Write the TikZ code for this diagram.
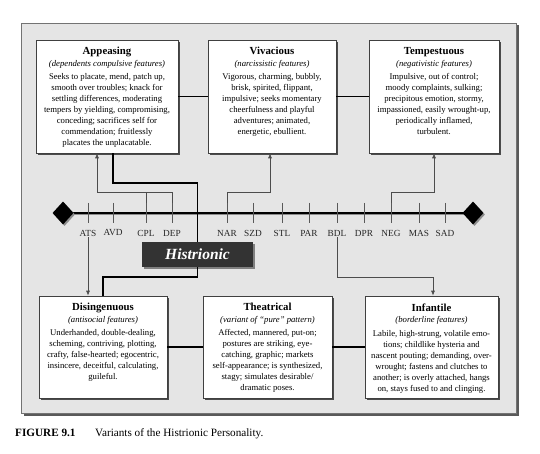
\documentclass[tikz,border=0pt]{standalone}
\usepackage{fontspec}
\setmainfont{Liberation Serif}
\usetikzlibrary{positioning,arrows.meta,shapes.geometric,shadows}

% title, subtitle and body of one variant box
\newcommand{\varianttext}[5]{%
  \parbox[c][#1][t]{#2}{\centering\vspace*{4.5pt}
    {\fontsize{10.8}{12}\selectfont\bfseries #3}\\[0.5pt]
    {\itshape #4}\\[2.5pt]
    #5}}

\begin{document}
\begin{tikzpicture}[x=1pt, y=-1pt, >={Latex[length=5pt,width=4pt]},
  every node/.style={font=\fontsize{8.7}{11}\selectfont},
  variant/.style={draw=black!75, fill=white, line width=0.6pt, inner sep=3pt,
    drop shadow={shadow xshift=2pt, shadow yshift=-2pt, fill=black!70, opacity=1}},
  link/.style={draw=black!70, line width=0.7pt},
  heavy/.style={draw=black, line width=1.6pt},
  tickmark/.style={draw=black!65, line width=0.7pt},
  ticklabel/.style={font=\fontsize{9.3}{10}\selectfont, text=black!85, inner sep=1pt},
  pole/.style={diamond, fill=black, inner sep=0pt, minimum width=21pt, minimum height=23pt,
    drop shadow={shadow xshift=1.5pt, shadow yshift=-1.5pt, fill=black!45, opacity=1}}]
  \useasboundingbox (0,0) rectangle (540,454);

  % grey panel
  \draw[draw=black!55, fill=black!10, line width=0.9pt,
    drop shadow={shadow xshift=2.5pt, shadow yshift=-2.5pt, fill=black!65, opacity=1}]
    (21,23) rectangle (516,413);

  % upper row
  \node[variant] (appeasing) at (107,96.5) {\varianttext{107pt}{136pt}{Appeasing}{(dependents compulsive features)}{%
    Seeks to placate, mend, patch up,\\ smooth over troubles; knack for\\ settling differences, moderating\\
    tempers by yielding, compromising,\\ conceding; sacrifices self for\\ commendation; fruitlessly\\
    placates the unplacatable.}};
  \node[variant] (vivacious) at (272,96.5) {\varianttext{107pt}{122pt}{Vivacious}{(narcissistic features)}{%
    Vigorous, charming, bubbly,\\ brisk, spirited, flippant,\\ impulsive; seeks momentary\\
    cheerfulness and playful\\ adventures; animated,\\ energetic, ebullient.}};
  \node[variant] (tempestuous) at (434,96.5) {\varianttext{107pt}{124pt}{Tempestuous}{(negativistic features)}{%
    Impulsive, out of control;\\ moody complaints, sulking;\\ precipitous emotion, stormy,\\
    impassioned, easily wrought-up,\\ periodically inflamed,\\ turbulent.}};

  % lower row
  \node[variant] (disingenuous) at (103,347) {\varianttext{96pt}{122pt}{Disingenuous}{(antisocial features)}{%
    Underhanded, double-dealing,\\ scheming, contriving, plotting,\\ crafty, false-hearted; egocentric,\\
    insincere, deceitful, calculating,\\ guileful.}};
  \node[variant] (theatrical) at (267.5,347) {\varianttext{96pt}{123pt}{Theatrical}{(variant of ``pure'' pattern)}{%
    Affected, mannered, put-on;\\ postures are striking, eye-\\ catching, graphic; markets\\
    self-appearance; is synthesized,\\ stagy; simulates desirable/\\ dramatic poses.}};
  \node[variant] (infantile) at (431.5,347) {\varianttext{96pt}{127pt}{Infantile}{(borderline features)}{%
    Labile, high-strung, volatile emo-\\ tions; childlike hysteria and\\ nascent pouting; demanding, over-\\
    wrought; fastens and clutches to\\ another; is overly attached, hangs\\ on, stays fused to and clinging.}};

  % axis with its poles
  \coordinate (lend) at (63,213);
  \coordinate (rend) at (473,213);
  \draw[black!45, line width=2pt] ([yshift=-1.5pt]lend) -- ([yshift=-1.5pt]rend);
  \draw[black, line width=2pt] (lend) -- (rend);
  \node[pole] (lpole) at (lend) {};
  \node[pole] (rpole) at (rend) {};
  \foreach \x/\lab in {88/ATS,113/AVD,146/CPL,172/DEP,227/NAR,253/SZD,282/STL,309/PAR,
                       337/BDL,364/DPR,391/NEG,419/MAS,445/SAD}{
    \draw[tickmark] (\x,203) coordinate (t\lab) -- (\x,223);
    \node[ticklabel] (\lab) at (\x,233) {\lab};
  }

  \node[fill=black!80, text=white, font=\fontsize{15.5}{17}\selectfont\bfseries\itshape,
    minimum width=111pt, minimum height=25pt, inner sep=0pt,
    drop shadow={shadow xshift=2pt, shadow yshift=-2pt, fill=black!50, opacity=1}]
    (histrionic) at (197.5,254.5) {Histrionic};

  % thin links from the axis
  \draw[link] (tCPL) -- ++(0,-11);
  \draw[link,->] (tDEP) -- ++(0,-11) -| ([xshift=-10pt]appeasing.south);
  \draw[link,->] (tNAR) -- ++(0,-11) -| ([xshift=-2pt]vivacious.south);
  \draw[link,->] (tNEG) -- ++(0,-11) -| (tempestuous.south);
  \draw[link,->] (ATS.south) -- (ATS.south |- disingenuous.north);
  \draw[link,->] (BDL.south) |- ([xshift=1.5pt,yshift=18pt]infantile.north) -- ([xshift=1.5pt]infantile.north);

  % heavy links
  \draw[heavy] ([xshift=6pt]appeasing.south) -- ++(0,30) -| (histrionic.north);
  \draw[heavy] (histrionic.south) -- ++(0,10) -| (disingenuous.north);
  \draw[heavy] (appeasing) -- (vivacious);
  \draw[heavy] (vivacious) -- (tempestuous);
  \draw[heavy] (disingenuous) -- (theatrical);
  \draw[heavy] (theatrical) -- (infantile);

  % caption
  \node[anchor=base west, font=\fontsize{11.2}{13}\selectfont\bfseries, inner sep=0pt] (fignum) at (15,436) {FIGURE 9.1};
  \node[anchor=base west, font=\fontsize{11.2}{13}\selectfont, inner sep=0pt] (figcap) at (95,436) {Variants of the Histrionic Personality.};
\end{tikzpicture}
\end{document}
